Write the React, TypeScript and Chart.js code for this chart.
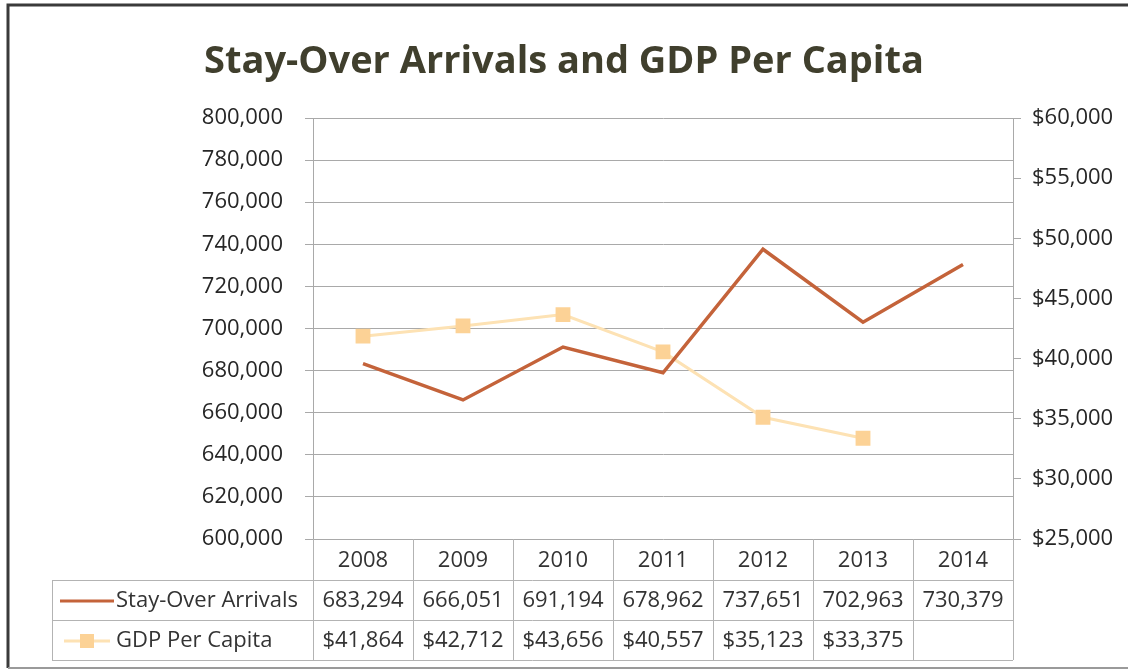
import React, { useEffect, useRef } from 'react';
import { Chart, registerables } from 'chart.js';

Chart.register(...registerables);

const years = ['2008', '2009', '2010', '2011', '2012', '2013', '2014'];
const stayOverArrivals = [683294, 666051, 691194, 678962, 737651, 702963, 730379];
const gdpPerCapita: (number | null)[] = [41864, 42712, 43656, 40557, 35123, 33375, null];
const seriesNames = ['Stay-Over Arrivals', 'GDP Per Capita'];
const chartTitle = 'Stay-Over Arrivals and GDP Per Capita';

const leftMin = 600000;
const leftMax = 800000;
const leftStep = 20000;
const rightMin = 25000;
const rightMax = 60000;
const rightStep = 5000;

const ARRIVALS_COLOR = '#c4633a';
const GDP_COLOR = '#fcd296';
const GDP_LINE = '#fde2b4';
const GRID = '#a9a9a9';
const TEXT = '#262626';
const FONT = "'Open Sans', 'Noto Sans', sans-serif";

const fmtNum = (v: number) => v.toLocaleString('en-US');
const fmtMoney = (v: number) => '$' + v.toLocaleString('en-US');

const tablePlugin = {
  id: 'dataTable',
  afterDraw(chart: any) {
    const { ctx, chartArea, scales } = chart;
    const xs = scales.x;
    const top = chartArea.bottom;
    const r1 = top + 41;
    const r2 = top + 81;
    const r3 = top + 121;
    const legendLeft = 52;
    const n = years.length;
    const half = (xs.getPixelForValue(1) - xs.getPixelForValue(0)) / 2;
    ctx.save();
    ctx.strokeStyle = '#b3b3b3';
    ctx.lineWidth = 1;
    ctx.beginPath();
    ctx.moveTo(legendLeft, r1 + 0.5); ctx.lineTo(chartArea.right, r1 + 0.5);
    ctx.moveTo(legendLeft, r2 + 0.5); ctx.lineTo(chartArea.right, r2 + 0.5);
    ctx.moveTo(legendLeft, r3 + 0.5); ctx.lineTo(chartArea.right, r3 + 0.5);
    ctx.moveTo(legendLeft + 0.5, r1); ctx.lineTo(legendLeft + 0.5, r3);
    for (let i = 0; i <= n; i++) {
      const xp = Math.round(xs.getPixelForValue(0) - half + i * half * 2) + 0.5;
      ctx.moveTo(xp, top); ctx.lineTo(xp, r3);
    }
    ctx.stroke();

    ctx.fillStyle = '#333333';
    ctx.font = `22px ${FONT}`;
    ctx.textAlign = 'center';
    ctx.textBaseline = 'middle';
    for (let i = 0; i < n; i++) {
      const cx = xs.getPixelForValue(i);
      ctx.fillText(years[i], cx, (top + r1) / 2 + 1);
      ctx.fillText(fmtNum(stayOverArrivals[i]), cx, (r1 + r2) / 2 + 1);
      const g = gdpPerCapita[i];
      if (g !== null) ctx.fillText(fmtMoney(g), cx, (r2 + r3) / 2 + 1);
    }
    ctx.textAlign = 'left';
    ctx.fillText(seriesNames[0], 116, (r1 + r2) / 2 + 1);
    ctx.fillText(seriesNames[1], 116, (r2 + r3) / 2 + 1);
    ctx.strokeStyle = ARRIVALS_COLOR;
    ctx.lineWidth = 3;
    ctx.beginPath();
    ctx.moveTo(60, (r1 + r2) / 2 + 1);
    ctx.lineTo(114, (r1 + r2) / 2 + 1);
    ctx.stroke();
    ctx.strokeStyle = GDP_LINE;
    ctx.beginPath();
    ctx.moveTo(64, (r2 + r3) / 2 + 1);
    ctx.lineTo(110, (r2 + r3) / 2 + 1);
    ctx.stroke();
    ctx.fillStyle = GDP_COLOR;
    ctx.fillRect(80, (r2 + r3) / 2 - 6, 14, 14);
    ctx.restore();
  },
};

const framePlugin = {
  id: 'frame',
  afterDraw(chart: any) {
    const { ctx, width, height } = chart;
    ctx.save();
    ctx.strokeStyle = '#3a3a3a';
    ctx.lineWidth = 3;
    ctx.beginPath();
    ctx.moveTo(8, height - 4);
    ctx.lineTo(8, 5);
    ctx.lineTo(width, 5);
    ctx.stroke();
    ctx.strokeStyle = '#9a9a9a';
    ctx.lineWidth = 2;
    ctx.beginPath();
    ctx.moveTo(8, height - 4);
    ctx.lineTo(width, height - 4);
    ctx.stroke();
    ctx.restore();
  },
};

export default function App() {
  const ref = useRef<HTMLCanvasElement>(null);
  useEffect(() => {
    if (!ref.current) return;
    const chart = new Chart(ref.current, {
      type: 'line',
      data: {
        labels: years,
        datasets: [
          {
            label: seriesNames[0],
            data: stayOverArrivals,
            yAxisID: 'y',
            borderColor: ARRIVALS_COLOR,
            backgroundColor: ARRIVALS_COLOR,
            borderWidth: 3.5,
            pointRadius: 0,
            tension: 0,
          },
          {
            label: seriesNames[1],
            data: gdpPerCapita,
            yAxisID: 'y1',
            borderColor: GDP_LINE,
            backgroundColor: GDP_COLOR,
            borderWidth: 3,
            pointStyle: 'rect',
            pointRadius: 10.5,
            pointBorderWidth: 0,
            pointBorderColor: GDP_COLOR,
            tension: 0,
            spanGaps: false,
          },
        ],
      },
      options: {
        responsive: false,
        animation: false,
        layout: { padding: 0 },
        plugins: {
          legend: { display: false },
          tooltip: { enabled: false },
          title: {
            display: true,
            text: chartTitle,
            color: '#403f2d',
            font: { family: FONT, size: 38, weight: 'bold', lineHeight: 1.2 },
            padding: { top: 39.2, bottom: 33.2 },
          },
        },
        scales: {
          x: {
            type: 'category',
            offset: true,
            grid: { display: false, offset: true },
            border: { display: false },
            ticks: { display: false },
            afterFit(scale: any) { scale.height = 133; },
          },
          y: {
            position: 'left',
            min: leftMin,
            max: leftMax,
            ticks: {
              stepSize: leftStep,
              color: TEXT,
              font: { family: FONT, size: 22 },
              padding: 22,
              callback: (v: any) => fmtNum(Number(v)),
            },
            grid: { color: GRID, tickLength: 8, lineWidth: 1 },
            border: { display: true, color: GRID },
            afterFit(scale: any) { scale.width = 313; },
          },
          y1: {
            position: 'right',
            min: rightMin,
            max: rightMax,
            ticks: {
              stepSize: rightStep,
              color: TEXT,
              font: { family: FONT, size: 22 },
              padding: 11,
              callback: (v: any) => fmtMoney(Number(v)),
            },
            grid: { drawOnChartArea: false, color: GRID, tickLength: 8 },
            border: { display: true, color: GRID },
            afterFit(scale: any) { scale.width = 115; },
          },
        },
      },
      plugins: [tablePlugin, framePlugin],
    });
    return () => chart.destroy();
  }, []);
  return (
    <div style={{ position: 'absolute', left: 0, top: 0, width: 1128, height: 672, background: '#ffffff' }}>
      <canvas ref={ref} width={1128} height={672} />
    </div>
  );
}
